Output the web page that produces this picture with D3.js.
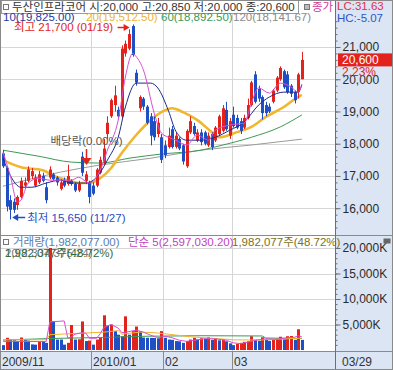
<!DOCTYPE html>
<html>
<head>
<meta charset="utf-8">
<script src="https://cdn.jsdelivr.net/npm/d3@7"></script>
<style>
  body { margin: 0; background: #fff; }
  svg { display: block; font-family: "Liberation Sans", "Noto Sans CJK KR", sans-serif; }
</style>
</head>
<body>
<div id="chart"></div>
<script>
// ---- data: 두산인프라코어 daily candles (2009/11/25 - 2010/03/29)
const dates = [
  "2009/11/25","2009/11/26","2009/11/27","2009/11/30",
  "2009/12/01","2009/12/02","2009/12/03","2009/12/04","2009/12/07","2009/12/08","2009/12/09","2009/12/10","2009/12/11",
  "2009/12/14","2009/12/15","2009/12/16","2009/12/17","2009/12/18","2009/12/21","2009/12/22","2009/12/23","2009/12/24",
  "2009/12/28","2009/12/29","2009/12/30",
  "2010/01/04","2010/01/05","2010/01/06","2010/01/07","2010/01/08","2010/01/11","2010/01/12","2010/01/13","2010/01/14",
  "2010/01/15","2010/01/18","2010/01/19","2010/01/20","2010/01/21","2010/01/22","2010/01/25","2010/01/26","2010/01/27",
  "2010/01/28","2010/01/29",
  "2010/02/01","2010/02/02","2010/02/03","2010/02/04","2010/02/05","2010/02/08","2010/02/09","2010/02/10","2010/02/11",
  "2010/02/12","2010/02/16","2010/02/17","2010/02/18","2010/02/19","2010/02/22","2010/02/23","2010/02/24","2010/02/25",
  "2010/02/26",
  "2010/03/02","2010/03/03","2010/03/04","2010/03/05","2010/03/08","2010/03/09","2010/03/10","2010/03/11","2010/03/12",
  "2010/03/15","2010/03/16","2010/03/17","2010/03/18","2010/03/19","2010/03/22","2010/03/23","2010/03/24","2010/03/25",
  "2010/03/26","2010/03/29"
];
const open = [
  17700,17250,16250,16200,16100,16350,16700,16850,17000,16700,
  16800,17000,16650,16950,17050,16950,16600,16850,16750,16850,
  16750,16550,17600,16850,16800,16700,16700,17100,17400,18300,
  18850,19200,19050,18850,20800,20950,21650,20200,19100,19400,
  19150,18850,18700,18300,18200,17950,17900,18450,17900,18150,
  17950,17300,18350,18550,18100,18350,18350,17950,18300,18100,
  18300,18400,19050,18250,18900,18800,18700,18500,18800,19200,
  20150,19700,19450,19200,19150,19300,19650,20000,20250,20150,
  19800,19600,19600,20000
];
const high = [
  17800,17300,16400,16300,16400,16950,16950,17300,17250,17050,
  17150,17100,16800,17300,17100,17000,16900,16950,17350,16900,
  16800,16850,17750,17150,16850,16800,17250,17600,18150,18850,
  19400,19800,19150,21050,21200,21550,21700,20300,19500,19450,
  19200,18950,18850,18800,18300,18100,18500,18550,18350,18200,
  18000,18450,18850,18650,18450,18450,18400,18350,18350,18550,
  18900,19200,19300,18800,19150,18900,18800,18900,19400,19950,
  20250,19800,19500,19300,19250,19700,20100,20400,20300,20250,
  19850,19650,20200,20850
];
const low = [
  17250,15900,15650,15850,15950,16300,16600,16800,16900,16650,
  16750,16800,16150,16900,16850,16700,16550,16650,16700,16700,
  16500,16500,17000,16750,16150,16400,16650,17050,17350,18150,
  18800,19000,18750,18800,20700,20900,20700,19800,19000,19050,
  18600,17950,18100,18200,17400,17550,17850,17850,17850,17800,
  17350,17250,18300,18250,18050,17950,17950,17900,17800,18050,
  18250,18350,18400,18150,18500,18450,18300,18450,18750,19150,
  19250,19300,18750,18850,18950,19250,19600,19950,19700,19550,
  19450,19250,19400,20000
];
const close = [
  17300,16050,15950,15950,16350,16850,16800,17200,17150,16950,
  17050,16850,16250,17200,16900,16800,16800,16700,17000,16750,
  16550,16750,17100,17050,16350,16450,17200,17500,17850,18650,
  19350,19500,18850,20950,21100,21400,20750,19900,19450,19150,
  18650,18250,18200,18650,17500,17650,18250,17900,18250,17850,
  17450,18400,18700,18300,18350,18050,18000,18250,17900,18500,
  18850,19100,18450,18700,18550,18500,18400,18800,19200,19900,
  19300,19400,18950,18950,19000,19650,20050,20350,19750,19600,
  19550,19350,20150,20600
];
const volume = [
  950000,2400000,2050000,1900000,1750000,2450000,2050000,1850000,1100000,1050000,
  1750000,1750000,1400000,20000000,5650000,2050000,2050000,1050000,1400000,4900000,
  2050000,2100000,5600000,1750000,1850000,1050000,2050000,2400000,6800000,4800000,
  5000000,3700000,3000000,2700000,6600000,3000000,3700000,4600000,3700000,2450000,
  2400000,2380000,2350000,2300000,3700000,2400000,2050000,2000000,1750000,1700000,
  1400000,1750000,2050000,2400000,2050000,2300000,2250000,2500000,2000000,2300000,
  1900000,2100000,1700000,1300000,950000,1200000,1400000,1600000,1700000,2700000,
  2000000,1800000,2500000,2100000,1800000,2000000,2200000,2600000,2100000,2700000,
  2750000,2000000,4068200,1982077
];
const exDividendDates = ["2009/12/29"];

// moving averages: [day index, value]
const ma5 = [[0,17740],[2,17020],[4,16190],[5,16250],[7,16780],[10,16930],[13,16870],[19,16870],[21,16960],
  [24,16780],[27,17180],[29,17800],[32,18730],[34,20070],[36,20800],[37,20700],[39,20290],[42,18950],[44,18330],
  [46,18200],[48,18110],[51,17960],[54,18270],[57,18110],[59,18420],[63,18580],[67,18640],[69,19260],[71,19730],
  [74,19570],[77,19880],[80,19760],[82,19600],[83,19850]];
const ma10 = [[0,17550],[2,17020],[5,16650],[8,16650],[12,16780],[16,16870],[19,16780],[23,16780],[26,16960],
  [29,17490],[32,18200],[34,19140],[37,19880],[41,19880],[43,19730],[46,19010],[48,18390],[51,18110],[55,18110],
  [59,18200],[63,18420],[67,18670],[71,19200],[74,19450],[78,19600],[82,19600],[83,19825]];
const ma20 = [[0,17490],[5,17270],[11,17180],[15,16960],[18,16870],[21,16780],[24,16780],[27,16930],[30,17240],
  [33,17710],[37,18270],[41,18730],[44,18980],[47,19100],[50,18980],[54,18730],[58,18360],[60,18200],[65,18360],
  [69,18520],[73,18830],[78,19140],[81,19380],[83,19512.5]];
const ma60 = [[0,17800],[10,17610],[19,17430],[27,17400],[35,17550],[44,17680],[55,17800],[60,17930],[69,18200],
  [77,18520],[83,18892.5]];
const ma120 = [[0,16680],[16,17120],[27,17340],[41,17550],[55,17800],[69,17960],[83,18141.67]];

const volMa5 = [[0,1700000],[12,1650000],[13,5500000],[17,5700000],[18,2300000],[19,2600000],[20,3100000],[22,3400000],
  [23,3300000],[24,2300000],[26,2300000],[27,3200000],[28,4400000],[30,5000000],[32,4300000],[33,3400000],[35,3600000],
  [37,3900000],[39,3500000],[41,2900000],[43,2400000],[45,2700000],[47,2400000],[49,1900000],[51,1700000],[53,1900000],
  [56,2200000],[59,2200000],[62,1900000],[64,1400000],[66,1250000],[68,1550000],[70,1900000],[73,2200000],[76,2100000],
  [79,2400000],[81,2500000],[82,2800000],[83,2597030.2]];
const volMa20 = [[0,2000000],[12,2000000],[13,3000000],[22,3300000],[28,3500000],[32,3800000],[33,3100000],[38,3500000],
  [42,3400000],[46,3100000],[52,2600000],[58,2300000],[64,2000000],[70,1950000],[76,2100000],[83,2334375.24]];
const volMa60 = [[0,1950000],[13,2250000],[27,2450000],[40,2700000],[55,2800000],[72,2750000],[73,2350000],[83,2250000]];

const priceTicks = [16000, 17000, 18000, 19000, 20000, 21000];
const volTicks = [5000000, 10000000, 15000000, 20000000];

// ---- layout
const W = 393, H = 370;
const plotR = 335, priceTop = 13, paneSep = 235, volBot = 351;
const RED = "#e3221c", BLUE = "#1f4fc4", PANEL = "#dbe5f3";

const svg = d3.select("#chart").append("svg").attr("width", W).attr("height", H);

const x = d3.scaleLinear().domain([0, dates.length - 1]).range([3, 301.8]);
const y = d3.scaleLinear().domain([16000, 21000]).range([208.2, 47]);
const yv = d3.scaleLinear().domain([0, 20000000]).range([350, 248]);
const step = x(1) - x(0);

svg.append("rect").attr("width", W).attr("height", H).attr("fill", "#fff");
svg.append("rect").attr("x", plotR).attr("y", 0).attr("width", W - plotR).attr("height", H).attr("fill", PANEL);
svg.append("rect").attr("x", 0).attr("y", volBot).attr("width", W).attr("height", H - volBot).attr("fill", PANEL);

const defs = svg.append("defs");
defs.append("clipPath").attr("id", "cp").append("rect")
  .attr("x", 1).attr("y", priceTop).attr("width", plotR - 1).attr("height", paneSep - priceTop);
defs.append("clipPath").attr("id", "cv").append("rect")
  .attr("x", 1).attr("y", paneSep + 1).attr("width", plotR - 1).attr("height", volBot - paneSep - 1);

// month starts (skip the one that would crowd the first label)
const monthStarts = dates.map((d, i) => i)
  .filter(i => i > 0 && dates[i].slice(0, 7) !== dates[i - 1].slice(0, 7) && x(i) > 60);

// grid
const grid = svg.append("g").attr("stroke", "#d6d6d6").attr("shape-rendering", "crispEdges");
priceTicks.forEach(t => grid.append("line").attr("x1", 1).attr("x2", plotR).attr("y1", Math.round(y(t)) + 0.5).attr("y2", Math.round(y(t)) + 0.5));
volTicks.forEach(t => grid.append("line").attr("x1", 1).attr("x2", plotR).attr("y1", Math.round(yv(t)) + 0.5).attr("y2", Math.round(yv(t)) + 0.5));
monthStarts.forEach(i => {
  const gx = Math.round(x(i) - step / 2) + 0.5;
  grid.append("line").attr("x1", gx).attr("x2", gx).attr("y1", priceTop).attr("y2", volBot);
});

// ---- price pane
const pg = svg.append("g").attr("clip-path", "url(#cp)");
const line = d3.line().x(d => x(d[0])).y(d => y(d[1])).curve(d3.curveMonotoneX);
pg.append("path").datum(ma120).attr("d", line).attr("fill", "none").attr("stroke", "#9a9a9a").attr("stroke-width", 1);
pg.append("path").datum(ma60).attr("d", line).attr("fill", "none").attr("stroke", "#3c9a55").attr("stroke-width", 1);
pg.append("path").datum(ma20).attr("d", line).attr("fill", "none").attr("stroke", "#f0b62c").attr("stroke-width", 2.6);

const candles = pg.selectAll("g.c").data(dates).enter().append("g").attr("class", "c");
candles.append("line")
  .attr("x1", (d, i) => Math.round(x(i)) + 0.5).attr("x2", (d, i) => Math.round(x(i)) + 0.5)
  .attr("y1", (d, i) => y(high[i])).attr("y2", (d, i) => y(low[i]))
  .attr("stroke", (d, i) => close[i] >= open[i] ? RED : BLUE);
candles.append("rect")
  .attr("x", (d, i) => Math.round(x(i)) - 1).attr("width", 3)
  .attr("y", (d, i) => y(Math.max(open[i], close[i])))
  .attr("height", (d, i) => Math.max(1, Math.abs(y(open[i]) - y(close[i]))))
  .attr("fill", (d, i) => close[i] >= open[i] ? RED : BLUE);

pg.append("path").datum(ma10).attr("d", line).attr("fill", "none").attr("stroke", "#1d2a8a").attr("stroke-width", 1);
pg.append("path").datum(ma5).attr("d", line).attr("fill", "none").attr("stroke", "#d84fd2").attr("stroke-width", 1);

// ex-dividend marker
exDividendDates.forEach(dd => {
  const i = dates.indexOf(dd), mx = Math.round(x(i)) + 0.5;
  svg.append("text").attr("x", mx).attr("y", 145).attr("text-anchor", "middle")
    .attr("font-size", 11.5).attr("fill", "#555").text("배당락(0.00%)");
  svg.append("line").attr("x1", mx).attr("x2", mx).attr("y1", 149).attr("y2", 160).attr("stroke", RED).attr("stroke-width", 1.5);
  svg.append("path").attr("d", `M${mx - 5},158H${mx + 5}L${mx},165Z`).attr("fill", RED);
});

// highest / lowest markers
const hiIdx = d3.maxIndex(high), loIdx = d3.minIndex(low);
const md = s => s.slice(5);
const fmt = d3.format(",");
svg.append("text").attr("x", 14).attr("y", 31).attr("font-size", 11.5).attr("fill", RED)
  .text(`최고 ${fmt(high[hiIdx])} (${md(dates[hiIdx])})`);
const hx = x(hiIdx) - 3;
svg.append("line").attr("x1", hx - 12).attr("x2", hx - 4).attr("y1", 27.5).attr("y2", 27.5).attr("stroke", RED).attr("stroke-width", 1.5);
svg.append("path").attr("d", `M${hx - 6},24L${hx},27.5L${hx - 6},31Z`).attr("fill", RED);

const lx = x(loIdx) + 2, ly = 217.5;
svg.append("path").attr("d", `M${lx},${ly}L${lx + 6},${ly - 3.5}L${lx + 6},${ly + 3.5}Z`).attr("fill", BLUE);
svg.append("line").attr("x1", lx + 5).attr("x2", lx + 13).attr("y1", ly).attr("y2", ly).attr("stroke", BLUE).attr("stroke-width", 1.5);
svg.append("text").attr("x", lx + 15).attr("y", 222).attr("font-size", 11.5).attr("fill", BLUE)
  .text(`최저 ${fmt(low[loIdx])} (${md(dates[loIdx])})`);

// ---- volume pane
const vg = svg.append("g").attr("clip-path", "url(#cv)");
vg.selectAll("rect").data(volume).enter().append("rect")
  .attr("x", (d, i) => Math.round(x(i)) - 1).attr("width", 3)
  .attr("y", d => yv(d)).attr("height", d => yv(0) - yv(d))
  .attr("fill", (d, i) => i > 0 && d > volume[i - 1] ? RED : BLUE);
const vline = d3.line().x(d => x(d[0])).y(d => yv(d[1]));
vg.append("path").datum(volMa60).attr("d", vline).attr("fill", "none").attr("stroke", "#3c9a55").attr("stroke-width", 1);
vg.append("path").datum(volMa20).attr("d", vline).attr("fill", "none").attr("stroke", "#f0b62c").attr("stroke-width", 1);
vg.append("path").datum(volMa5).attr("d", vline).attr("fill", "none").attr("stroke", "#d84fd2").attr("stroke-width", 1);

// ---- frame lines
svg.append("line").attr("x1", 0).attr("x2", W).attr("y1", paneSep + 0.5).attr("y2", paneSep + 0.5).attr("stroke", "#8a8a8a");
svg.append("line").attr("x1", 0).attr("x2", W).attr("y1", volBot + 0.5).attr("y2", volBot + 0.5).attr("stroke", "#8a8a8a");

// ---- right axes
function styleAxis(g) {
  g.select(".domain").attr("stroke", "#6f6f6f");
  g.selectAll(".tick line").attr("stroke", "#6f6f6f");
  g.selectAll(".tick text").attr("fill", "#2b2b2b").attr("font-size", 12).attr("font-family", null);
}
const minorP = d3.range(15400, 21801, 200);
svg.append("g").attr("transform", `translate(${plotR + 0.5},0)`)
  .call(d3.axisRight(y).tickValues(minorP).tickSize(2).tickFormat(""))
  .call(g => g.select(".domain").remove()).call(styleAxis);
svg.append("g").attr("transform", `translate(${plotR + 0.5},0)`)
  .call(d3.axisRight(y).tickValues(priceTicks).tickSize(5).tickPadding(2).tickFormat(fmt))
  .call(g => g.select(".domain").remove()).call(styleAxis);
const minorV = d3.range(1000000, 20000001, 1000000);
svg.append("g").attr("transform", `translate(${plotR + 0.5},0)`)
  .call(d3.axisRight(yv).tickValues(minorV).tickSize(2).tickFormat(""))
  .call(g => g.select(".domain").remove()).call(styleAxis);
svg.append("g").attr("transform", `translate(${plotR + 0.5},0)`)
  .call(d3.axisRight(yv).tickValues(volTicks).tickSize(5).tickPadding(2).tickFormat(d => fmt(d / 1000) + "K"))
  .call(g => g.select(".domain").remove()).call(styleAxis);
svg.append("line").attr("x1", plotR + 0.5).attr("x2", plotR + 0.5).attr("y1", 0).attr("y2", H).attr("stroke", "#6f6f6f");

// current price box
const last = dates.length - 1;
const cy = y(close[last]);
svg.append("rect").attr("x", plotR + 3).attr("y", cy - 6.5).attr("width", W - plotR - 3).attr("height", 13).attr("fill", RED);
svg.append("text").attr("x", plotR + 7).attr("y", cy + 4.5).attr("font-size", 12).attr("fill", "#fff").text(fmt(close[last]));
const chg = (close[last] - close[last - 1]) / close[last - 1] * 100;
svg.append("text").attr("x", plotR + 7).attr("y", cy + 16).attr("font-size", 12).attr("fill", RED).text(chg.toFixed(2) + "%");

// LC / HC
const lc = (close[last] - low[loIdx]) / low[loIdx] * 100;
const hc = (close[last] - high[hiIdx]) / high[hiIdx] * 100;
svg.append("text").attr("x", plotR + 2).attr("y", 10).attr("font-size", 11.5).attr("fill", "#e0304e").text("LC:" + lc.toFixed(2));
svg.append("text").attr("x", plotR + 2).attr("y", 22).attr("font-size", 11.5).attr("fill", "#2f55c8").text("HC:" + hc.toFixed(2));

// ---- title bar
svg.append("rect").attr("x", 1.5).attr("y", 0.5).attr("width", 297).attr("height", 13).attr("fill", "#fff").attr("stroke", "#9a9a9a");
svg.append("rect").attr("x", 3.5).attr("y", 4.5).attr("width", 5).attr("height", 5).attr("fill", "#fff").attr("stroke", "#777");
svg.append("text").attr("x", 12).attr("y", 11).attr("font-size", 11.5).attr("fill", "#333")
  .text(`두산인프라코어 시:${fmt(open[last])} 고:${fmt(high[last])} 저:${fmt(low[last])} 종:${fmt(close[last])}`);
svg.append("rect").attr("x", 304.5).attr("y", 4.5).attr("width", 5).attr("height", 5).attr("fill", "#bbb").attr("stroke", "#777");
svg.append("text").attr("x", 312).attr("y", 11).attr("font-size", 11.5).attr("fill", "#d0409a").text("종가");

// MA legend
const f2 = d3.format(",.2f");
const legend = [[10, ma10, "#1d3aa0", 3], [20, ma20, "#e8b43a", 86], [60, ma60, "#3c9a55", 161], [120, ma120, "#8a8a8a", 233]];
legend.forEach(([n, s, c, lx0]) => {
  svg.append("text").attr("x", lx0).attr("y", 21).attr("font-size", 11.5).attr("fill", c)
    .text(`${n}(${f2(s[s.length - 1][1])})`);
});

// volume legend
svg.append("rect").attr("x", 3.5).attr("y", 239.5).attr("width", 5).attr("height", 5).attr("fill", "#fff").attr("stroke", "#777");
svg.append("text").attr("x", 13).attr("y", 246).attr("font-size", 11.5).attr("fill", "#5a7db0")
  .text(`거래량(${f2(volume[last])})`);
svg.append("text").attr("x", 128).attr("y", 246).attr("font-size", 11.5).attr("fill", "#c13fc0")
  .text(`단순 5(${f2(volMa5[volMa5.length - 1][1])})`);
const pct = (volume[last] / volume[last - 1] * 100).toFixed(2);
svg.append("text").attr("x", 232).attr("y", 246).attr("font-size", 11.5).attr("fill", "#7d7020")
  .text(`${fmt(volume[last])}주(${pct}%)`);
svg.append("text").attr("x", 5).attr("y", 257).attr("font-size", 11.5).attr("fill", "#7a7a7a")
  .text(`20(${f2(volMa20[volMa20.length - 1][1])})`);
svg.append("text").attr("x", 5).attr("y", 257).attr("font-size", 11.5).attr("fill", "#2f6a3a")
  .text(`${fmt(volume[last])}주(${pct}%)`);
svg.append("rect").attr("x", 383.5).attr("y", 238.5).attr("width", 7).attr("height", 5).attr("fill", "#666");

// ---- bottom date axis
const labels = [0].concat(monthStarts);
labels.forEach((i, k) => {
  const [yy, mm] = dates[i].split("/");
  const txt = (k === 0 || mm === "01") ? `${yy}/${mm}` : mm;
  const lx1 = k === 0 ? 2 : Math.round(x(i) - step / 2) + 2;
  if (k > 0) {
    const gx = Math.round(x(i) - step / 2) + 0.5;
    svg.append("line").attr("x1", gx).attr("x2", gx).attr("y1", volBot).attr("y2", H).attr("stroke", "#8a8a8a");
  }
  svg.append("text").attr("x", lx1).attr("y", 366).attr("font-size", 12).attr("fill", "#333").text(txt);
});
svg.append("text").attr("x", plotR + 7).attr("y", 366).attr("font-size", 12).attr("fill", "#333").text(md(dates[last]));

// outer border
svg.append("rect").attr("x", 0.5).attr("y", 0.5).attr("width", W - 1).attr("height", H - 1).attr("fill", "none").attr("stroke", "#8a8a8a");
</script>
</body>
</html>
